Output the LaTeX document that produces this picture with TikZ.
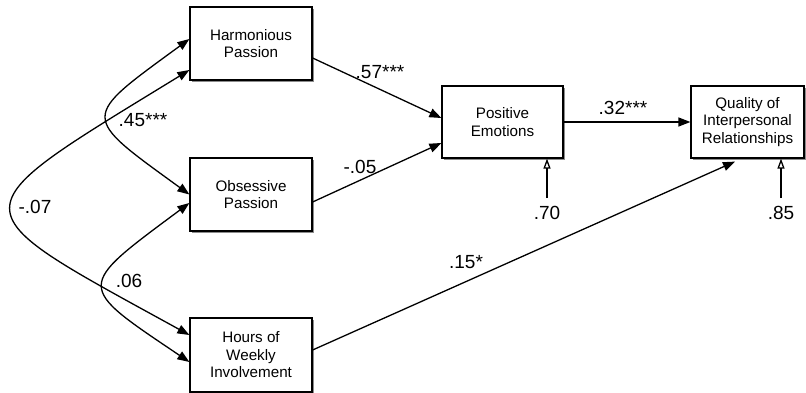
\documentclass[tikz,border=0pt]{standalone}
\usepackage{fontspec}
\setmainfont{Liberation Sans}
\usetikzlibrary{arrows.meta,shadows,calc}
\begin{document}
\begin{tikzpicture}[x=1pt,y=-1pt,
  box/.style={draw,line width=1.2pt,fill=white,align=center,inner sep=0pt,
    font=\fontsize{15.2}{17.5}\selectfont,
    drop shadow={shadow xshift=2pt,shadow yshift=-2pt,fill=black!45,opacity=1}},
  lab/.style={font=\fontsize{19}{22}\selectfont,inner sep=0pt},
  arr/.style={line width=1.3pt,-{Triangle[length=12pt,width=9pt]}},
  biarr/.style={line width=1.3pt,{Triangle[length=12pt,width=9pt]}-{Triangle[length=12pt,width=9pt]}},
  res/.style={line width=1.3pt,-{Triangle[open,length=10pt,width=7pt]}}]
\useasboundingbox (0,0) rectangle (806,393);
% boxes
\node[box,minimum width=122pt,minimum height=73pt] (hp) at (251,43.5) {Harmonious\\Passion};
\node[box,minimum width=122pt,minimum height=73pt] (op) at (251,194.5) {Obsessive\\Passion};
\node[box,minimum width=122pt,minimum height=74pt] (hwi) at (251,355) {Hours of\\Weekly\\Involvement};
\node[box,minimum width=121pt,minimum height=72pt] (pe) at (502.5,122) {Positive\\Emotions};
\node[box,minimum width=113pt,minimum height=72pt] (q) at (747.5,122) {Quality of\\Interpersonal\\Relationships};
% paths
\draw[arr] ([yshift=-14.5pt]hp.east) -- ([yshift=4pt]pe.west);
\draw[arr] ([yshift=-7.5pt]op.east) -- ([yshift=-21pt]pe.west);
\draw[arr] (pe.east) -- (q.west);
\draw[arr] ([yshift=5pt]hwi.east) -- ([xshift=-12.5pt,yshift=-3pt]q.south);
% correlations
\draw[biarr] ([yshift=4.5pt]hp.west) .. controls (80,119) and (80,115) .. (op.west);
\draw[biarr] ([yshift=-26.5pt]hp.west) .. controls (-47,215) and (-47,205) .. ([yshift=20pt]hwi.west);
\draw[biarr] ([yshift=-8.5pt]op.west) .. controls (75,288) and (75,285) .. ([yshift=-7pt]hwi.west);
% residuals
\coordinate (r1) at (547,198);
\coordinate (r2) at (781,198);
\draw[res] (r1) -- ([xshift=44.5pt]pe.south);
\draw[res] (r2) -- ([xshift=33.5pt]q.south);
% labels
\node[lab] (l57) at (380,72) {.57***};
\node[lab] (l05) at (360,167) {-.05};
\node[lab] (l32) at (623,108) {.32***};
\node[lab] (l15) at (466,262) {.15*};
\node[lab] (l70) at (547,213) {.70};
\node[lab] (l85) at (781,213) {.85};
\node[lab] (l45) at (143,120) {.45***};
\node[lab] (l07) at (35,207) {-.07};
\node[lab] (l06) at (129,281) {.06};
\end{tikzpicture}
\end{document}
